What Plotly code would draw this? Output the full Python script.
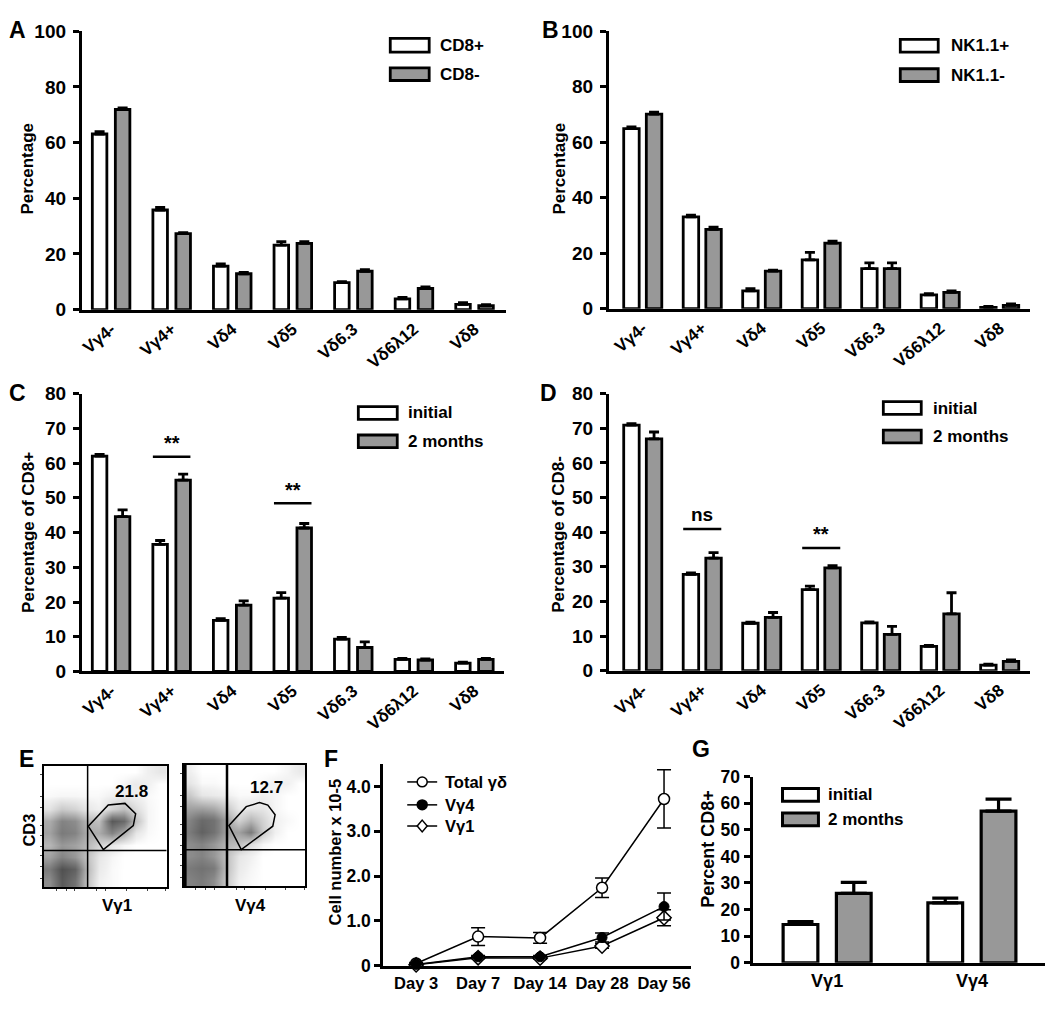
import plotly.graph_objects as go

W, H = 1050, 1012
FONT = "Liberation Sans, Arial, Helvetica, sans-serif"
GREY = "#989898"

# ---------------- data ----------------
categories = ["Vγ4-", "Vγ4+", "Vδ4", "Vδ5", "Vδ6.3", "Vδ6λ12", "Vδ8"]

a_cd8_pos = [63.1, 35.8, 15.6, 23.2, 9.7, 3.9, 1.9]
a_cd8_pos_err = [0.8, 0.9, 0.8, 1.2, 0.4, 0.5, 0.6]
a_cd8_neg = [71.9, 27.3, 12.9, 23.8, 13.8, 7.6, 1.4]
a_cd8_neg_err = [0.6, 0.4, 0.5, 0.6, 0.6, 0.6, 0.4]

b_nk_pos = [64.9, 33.1, 6.4, 17.6, 14.4, 5.0, 0.5]
b_nk_pos_err = [0.6, 0.6, 0.8, 2.7, 2.1, 0.4, 0.3]
b_nk_neg = [70.1, 28.6, 13.5, 23.6, 14.4, 5.9, 1.2]
b_nk_neg_err = [0.7, 0.8, 0.4, 0.7, 2.1, 0.5, 0.5]

c_initial = [62.0, 36.6, 14.7, 21.1, 9.3, 3.5, 2.4]
c_initial_err = [0.5, 1.1, 0.5, 1.6, 0.5, 0.3, 0.3]
c_2months = [44.6, 55.1, 19.1, 41.3, 6.9, 3.3, 3.5]
c_2months_err = [1.9, 1.7, 1.2, 1.3, 1.6, 0.3, 0.3]

d_initial = [70.9, 27.8, 13.7, 23.4, 13.8, 7.0, 1.6]
d_initial_err = [0.4, 0.4, 0.3, 1.0, 0.3, 0.3, 0.3]
d_2months = [66.9, 32.5, 15.4, 29.7, 10.5, 16.4, 2.7]
d_2months_err = [2.0, 1.6, 1.4, 0.6, 2.3, 6.1, 0.4]

# significance marks: (category index, bar level, label)
c_sig = [(1, 61.8, "**"), (3, 48.4, "**")]
d_sig = [(1, 40.9, "ns"), (3, 35.4, "**")]

# E: flow cytometry dot plots, density read on a 10x10 grid (rows bottom->top)
e_grid = [0.05, 0.15, 0.25, 0.35, 0.45, 0.55, 0.65, 0.75, 0.85, 0.95]
e_vg1_density = [
    [0.55, 0.85, 0.70, 0.30, 0.05, 0.02, 0.00, 0.00, 0.00, 0.00],
    [0.65, 0.90, 0.80, 0.35, 0.08, 0.02, 0.00, 0.00, 0.00, 0.00],
    [0.45, 0.60, 0.50, 0.30, 0.10, 0.03, 0.00, 0.00, 0.00, 0.00],
    [0.35, 0.50, 0.45, 0.35, 0.20, 0.10, 0.03, 0.00, 0.00, 0.00],
    [0.45, 0.65, 0.60, 0.40, 0.40, 0.60, 0.40, 0.10, 0.02, 0.00],
    [0.40, 0.60, 0.55, 0.35, 0.30, 0.85, 0.75, 0.30, 0.03, 0.00],
    [0.12, 0.25, 0.20, 0.10, 0.05, 0.20, 0.30, 0.15, 0.03, 0.00],
    [0.02, 0.03, 0.03, 0.02, 0.02, 0.05, 0.08, 0.05, 0.02, 0.00],
    [0.00, 0.00, 0.00, 0.00, 0.00, 0.00, 0.03, 0.08, 0.05, 0.00],
    [0.00, 0.00, 0.00, 0.00, 0.00, 0.00, 0.00, 0.00, 0.05, 0.10],
]
e_vg4_density = [
    [0.60, 0.65, 0.55, 0.25, 0.05, 0.02, 0.00, 0.00, 0.00, 0.00],
    [0.65, 0.70, 0.65, 0.30, 0.08, 0.03, 0.00, 0.00, 0.00, 0.00],
    [0.55, 0.60, 0.50, 0.30, 0.10, 0.05, 0.00, 0.00, 0.00, 0.00],
    [0.55, 0.60, 0.50, 0.35, 0.30, 0.15, 0.03, 0.00, 0.00, 0.00],
    [0.65, 0.80, 0.70, 0.45, 0.45, 0.65, 0.25, 0.05, 0.00, 0.00],
    [0.60, 0.75, 0.70, 0.45, 0.20, 0.35, 0.20, 0.05, 0.02, 0.00],
    [0.45, 0.45, 0.40, 0.25, 0.08, 0.10, 0.10, 0.03, 0.00, 0.00],
    [0.25, 0.10, 0.08, 0.05, 0.02, 0.02, 0.05, 0.03, 0.00, 0.00],
    [0.10, 0.02, 0.02, 0.00, 0.00, 0.00, 0.02, 0.05, 0.05, 0.00],
    [0.05, 0.00, 0.00, 0.00, 0.00, 0.00, 0.00, 0.00, 0.03, 0.08],
]
e_vg1_gate = [(0.361, 0.504), (0.524, 0.678), (0.660, 0.692), (0.747, 0.606),
              (0.728, 0.509), (0.484, 0.311)]
e_vg4_gate = [(0.372, 0.501), (0.514, 0.657), (0.623, 0.690), (0.691, 0.670),
              (0.751, 0.590), (0.732, 0.496), (0.473, 0.303)]
e_vg1_pct = "21.8"
e_vg4_pct = "12.7"
e_quad_x = 0.356
e_quad_y = 0.303

f_days = ["Day 3", "Day 7", "Day 14", "Day 28", "Day 56"]
f_total = [0.05, 0.65, 0.62, 1.74, 3.72]
f_total_err = [0.02, 0.20, 0.12, 0.22, 0.65]
f_vg4 = [0.03, 0.20, 0.20, 0.63, 1.32]
f_vg4_err = [0.01, 0.03, 0.03, 0.10, 0.30]
f_vg1 = [0.02, 0.18, 0.17, 0.44, 1.07]
f_vg1_err = [0.01, 0.02, 0.02, 0.05, 0.18]

g_groups = ["Vγ1", "Vγ4"]
g_initial = [14.4, 22.5]
g_initial_err = [1.1, 1.8]
g_2months = [26.1, 57.0]
g_2months_err = [4.1, 4.5]


# ---------------- helpers ----------------
def X(p):
    return p / W


def Y(p):
    return 1 - p / H


def bf(size):
    return dict(family=FONT, size=size, color="black", weight="bold")


fig = go.Figure()


def bar_pair(cats, v1, e1, v2, e2, ax, width, half_sep, lw, capw):
    xa, ya = "x" + ax, "y" + ax
    for vals, errs, col, sign in ((v1, e1, "white", -1), (v2, e2, GREY, 1)):
        fig.add_trace(go.Bar(
            x=cats, y=vals, xaxis=xa, yaxis=ya,
            width=width, offset=sign * half_sep - width / 2,
            marker=dict(color=col, line=dict(color="black", width=lw)),
            error_y=dict(type="data", array=errs, arrayminus=[0] * len(errs),
                         symmetric=False, color="black", thickness=lw, width=capw),
            showlegend=False, hoverinfo="x+y"))


bar_pair(categories, a_cd8_pos, a_cd8_pos_err, a_cd8_neg, a_cd8_neg_err, "", 0.24, 0.19, 2.8, 5)
bar_pair(categories, b_nk_pos, b_nk_pos_err, b_nk_neg, b_nk_neg_err, "2", 0.26, 0.19, 2.8, 5)
bar_pair(categories, c_initial, c_initial_err, c_2months, c_2months_err, "3", 0.24, 0.19, 2.8, 5)
bar_pair(categories, d_initial, d_initial_err, d_2months, d_2months_err, "4", 0.26, 0.19, 2.8, 5)
bar_pair(g_groups, g_initial, g_initial_err, g_2months, g_2months_err, "8", 0.24, 0.184, 3.2, 13)

# E heatmaps
scale = [[0, "#ffffff"], [0.05, "#f0f0f0"], [0.3, "#c0c0c0"], [0.6, "#838383"], [1, "#404040"]]
for dens, ax in ((e_vg1_density, "5"), (e_vg4_density, "6")):
    fig.add_trace(go.Heatmap(
        x=e_grid, y=e_grid, z=dens, xaxis="x" + ax, yaxis="y" + ax,
        colorscale=scale, zmin=0, zmax=1, zsmooth="best", showscale=False,
        hoverinfo="skip"))

# F lines
mk_line = dict(color="black", width=1.5)
f_series = [
    (f_total, f_total_err, dict(symbol="circle", size=11, color="white", line=dict(color="black", width=1.5))),
    (f_vg1, f_vg1_err, dict(symbol="diamond", size=11, color="white", line=dict(color="black", width=1.5))),
    (f_vg4, f_vg4_err, dict(symbol="circle", size=10, color="black", line=dict(color="black", width=1))),
]
for vals, errs, mk in f_series:
    fig.add_trace(go.Scatter(
        x=f_days, y=vals, xaxis="x7", yaxis="y7", mode="lines+markers",
        line=mk_line, marker=mk,
        error_y=dict(type="data", array=errs, color="black", thickness=1.5, width=7),
        showlegend=False, cliponaxis=False))

# ---------------- axes ----------------
layout = dict(
    width=W, height=H, margin=dict(l=0, r=0, t=0, b=0),
    paper_bgcolor="white", plot_bgcolor="rgba(0,0,0,0)",
    barmode="overlay", showlegend=False,
    font=dict(family=FONT, color="black"),
)


def xcat(dom, rng, anchor, angle=-40, size=17):
    return dict(domain=[X(dom[0]), X(dom[1])], range=rng, anchor=anchor, type="category",
                showline=True, linewidth=3, linecolor="black", ticks="", showgrid=False,
                zeroline=False, tickangle=angle, tickfont=bf(size), fixedrange=True)


def yval(dom, rng, tickvals, anchor, size=19, ticktext=None, standoff=3):
    d = dict(domain=[Y(dom[0]), Y(dom[1])], range=rng, anchor=anchor, showline=True,
             linewidth=3, linecolor="black", ticks="outside", ticklen=6, tickwidth=3,
             tickcolor="black", tickvals=tickvals, showgrid=False, zeroline=False,
             tickfont=bf(size), fixedrange=True, ticklabelstandoff=standoff)
    if ticktext:
        d["ticktext"] = ticktext
    return d


layout["xaxis"] = xcat((80, 505), [-0.483, 6.52], "y")
layout["yaxis"] = yval((306, 21.7), [0, 100], [0, 20, 40, 60, 80, 100], "x")
layout["xaxis2"] = xcat((608, 1030), [-0.57, 6.51], "y2")
layout["yaxis2"] = yval((305, 21.7), [0, 100], [0, 20, 40, 60, 80, 100], "x2")
layout["xaxis3"] = xcat((80, 503), [-0.483, 6.49], "y3")
layout["yaxis3"] = yval((675.5, 391.7), [0, 80], list(range(0, 81, 10)), "x3")
layout["xaxis4"] = xcat((608, 1030), [-0.57, 6.51], "y4")
layout["yaxis4"] = yval((674.7, 391.7), [0, 80], list(range(0, 81, 10)), "x4")
layout["xaxis7"] = xcat((382, 690), [-0.53, 4.43], "y7", angle=0, size=16.5)
layout["yaxis7"] = yval((976, 770), [0, 4.5], [0, 1, 2, 3, 4], "x7", size=17.5,
                        ticktext=["0", "1.0", "2.0", "3.0", "4.0"], standoff=0)
layout["xaxis8"] = xcat((752, 1045), [-0.515, 1.505], "y8", angle=0, size=18)
layout["yaxis8"] = yval((973, 782.8), [0, 70], list(range(0, 71, 10)), "x8", size=17.5,
                        standoff=0)

e_xticks = [0.10, 0.18, 0.25, 0.43, 0.50, 0.67, 0.84, 0.99]
e_yticks = [0.075, 0.17, 0.26, 0.34, 0.43, 0.51, 0.66, 0.75, 0.93]
for ax, xd, yd, lwl in (("5", (42, 165), (896, 772), 1.5), ("6", (182, 304), (895, 771), 1.5)):
    layout["xaxis" + ax] = dict(domain=[X(xd[0]), X(xd[1])], range=[0, 1], anchor="y" + ax,
                                showline=True, mirror=True, linewidth=lwl, linecolor="black",
                                ticks="outside", ticklen=2, tickwidth=1, tickvals=e_xticks,
                                showticklabels=False, showgrid=False, zeroline=False, fixedrange=True)
    layout["yaxis" + ax] = dict(domain=[Y(yd[0]), Y(yd[1])], range=[0, 1], anchor="x" + ax,
                                showline=True, mirror=True, linewidth=lwl, linecolor="black",
                                ticks="outside", ticklen=2, tickwidth=1, tickvals=e_yticks,
                                showticklabels=False, showgrid=False, zeroline=False, fixedrange=True)

shapes = []
annotations = []


def text(x, y, s, size=17, xanchor="center", angle=0, xref="paper", yref="paper", yanchor="middle"):
    if xref == "paper":
        x = X(x)
    if yref == "paper":
        y = Y(y)
    annotations.append(dict(x=x, y=y, xref=xref, yref=yref, text=s, showarrow=False,
                            xanchor=xanchor, yanchor=yanchor, textangle=angle, font=bf(size)))


# panel letters
for s, x, y in (("A", 16, 20), ("B", 550, 20), ("C", 16, 391), ("D", 548, 391),
                ("E", 25, 765), ("F", 330, 765), ("G", 700, 755)):
    text(x, y, s, size=23)

# axis titles
text(26, 162, "Percentage", angle=-90)
text(559, 162, "Percentage", angle=-90)
text(27, 533, "Percentage of CD8+", angle=-90)
text(558, 535, "Percentage of CD8-", angle=-90)
text(334, 860, "Cell number x 10-5", size=16.5, angle=-90)
text(708, 857, "Percent CD8+", size=18, angle=-90)
text(27, 837, "CD3", size=16.5, angle=-90)
text(115, 914, "Vγ1", size=17)
text(249, 914, "Vγ4", size=17)


# bar legends
def bar_legend(x0, x1, y_rows, labels, tx, lw=2.8):
    for (ya, yb), lab, col in zip(y_rows, labels, ("white", GREY)):
        shapes.append(dict(type="rect", xref="paper", yref="paper", x0=X(x0), x1=X(x1),
                           y0=Y(yb), y1=Y(ya), fillcolor=col, line=dict(color="black", width=lw)))
        text(tx, (ya + yb) / 2, lab, xanchor="left")


bar_legend(389, 428, [(29, 43), (59, 72)], ["CD8+", "CD8-"], 437)
bar_legend(900, 938, [(30, 43), (60, 73)], ["NK1.1+", "NK1.1-"], 949)
bar_legend(357, 396, [(405, 418), (434, 447)], ["initial", "2 months"], 405)
bar_legend(883, 921, [(400, 413), (429, 442)], ["initial", "2 months"], 931)
bar_legend(782, 818, [(795, 808), (820, 833)], ["initial", "2 months"], 826, lw=3)

# significance marks
for sig, ax, off in ((c_sig, "3", 0.31), (d_sig, "4", 0.32)):
    for ci, lvl, lab in sig:
        shapes.append(dict(type="line", xref="x" + ax, yref="y" + ax, x0=ci - off, x1=ci + off,
                           y0=lvl, y1=lvl, line=dict(color="black", width=2.5)))
        text(ci, lvl + (0.6 if lab == "ns" else 0.2), lab, size=20 if lab == "**" else 19,
             xref="x" + ax, yref="y" + ax, yanchor="bottom")

# E quadrants, gates, labels
for ax, gate, pct, qlw in (("5", e_vg1_gate, e_vg1_pct, 1.5), ("6", e_vg4_gate, e_vg4_pct, 2.5)):
    shapes.append(dict(type="line", xref="x" + ax, yref="y" + ax, x0=e_quad_x, x1=e_quad_x,
                       y0=0, y1=1, line=dict(color="black", width=qlw)))
    shapes.append(dict(type="line", xref="x" + ax, yref="y" + ax, x0=0, x1=1,
                       y0=e_quad_y, y1=e_quad_y, line=dict(color="black", width=1.5)))
    path = "M " + " L ".join(f"{gx},{gy}" for gx, gy in gate) + " Z"
    shapes.append(dict(type="path", xref="x" + ax, yref="y" + ax, path=path,
                       line=dict(color="black", width=1.5)))
shapes.append(dict(type="line", xref="x6", yref="y6", x0=0.012, x1=0.012, y0=0, y1=1,
                   line=dict(color="black", width=3)))
text(0.71, 0.79, e_vg1_pct, size=17, xref="x5", yref="y5")
text(0.68, 0.815, e_vg4_pct, size=17, xref="x6", yref="y6")

# F legend
f_leg = [("Total γδ", 788.3, "circle", "white"), ("Vγ4", 811.7, "circle", "black"),
         ("Vγ1", 833.3, "diamond", "white")]
for lab, yy, sym, col in f_leg:
    shapes.append(dict(type="line", xref="paper", yref="paper", x0=X(406), x1=X(436),
                       y0=Y(yy), y1=Y(yy), line=dict(color="black", width=1.5)))
    cx, r = 421, 5
    if sym == "circle":
        shapes.append(dict(type="circle", xref="paper", yref="paper", x0=X(cx - r), x1=X(cx + r),
                           y0=Y(yy + r), y1=Y(yy - r), fillcolor=col,
                           line=dict(color="black", width=1.5)))
    else:
        p = (f"M {X(cx)},{Y(yy - 6)} L {X(cx + 5)},{Y(yy)} L {X(cx)},{Y(yy + 6)} "
             f"L {X(cx - 5)},{Y(yy)} Z")
        shapes.append(dict(type="path", xref="paper", yref="paper", path=p, fillcolor="white",
                           line=dict(color="black", width=1.5)))
    text(442, yy, lab, size=16.5, xanchor="left")

layout["shapes"] = shapes
layout["annotations"] = annotations
fig.update_layout(**layout)
fig.write_html("out.html", config={"displayModeBar": False},
               post_script="document.body.style.margin='0';document.body.style.overflow='hidden';")
